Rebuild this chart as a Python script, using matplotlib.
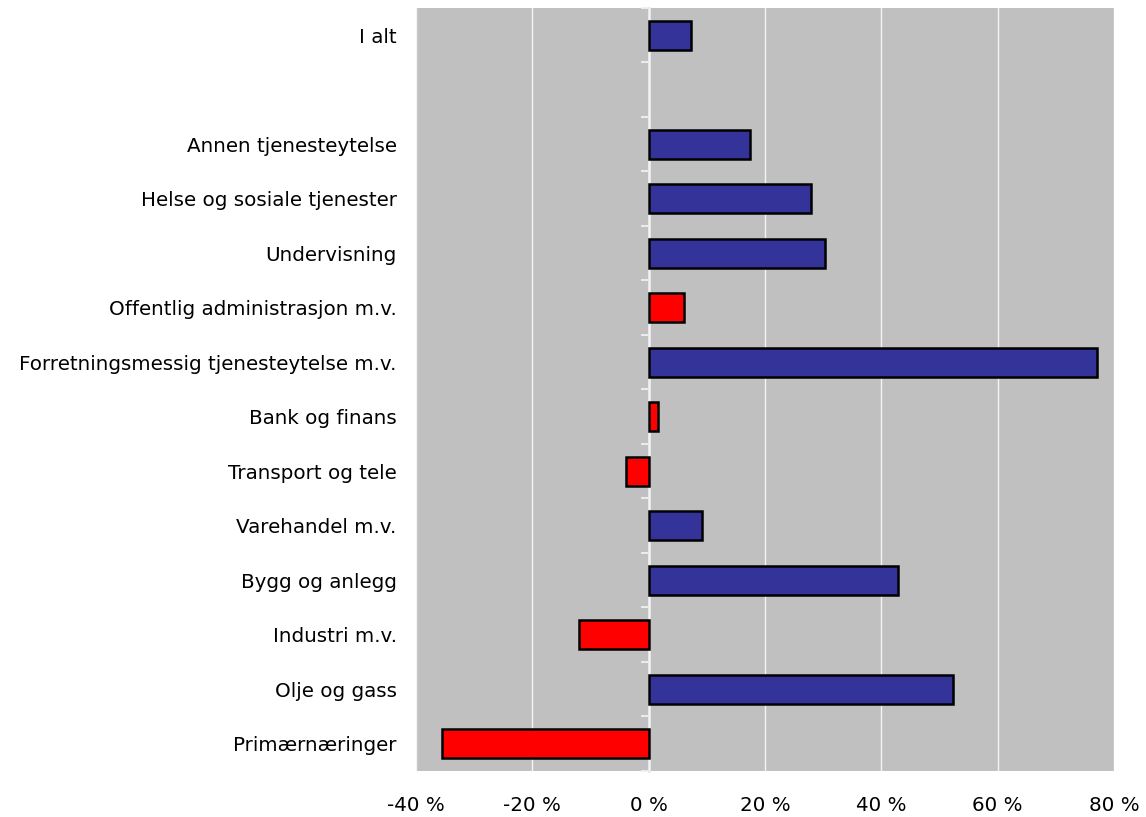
import matplotlib
matplotlib.use("Agg")
import matplotlib.pyplot as plt
import numpy as np

categories = ["I alt", "", "Annen tjenesteytelse", "Helse og sosiale tjenester", "Undervisning",
              "Offentlig administrasjon m.v.", "Forretningsmessig tjenesteytelse m.v.",
              "Bank og finans", "Transport og tele", "Varehandel m.v.", "Bygg og anlegg",
              "Industri m.v.", "Olje og gass", "Primærnæringer"]
values = [7.3, np.nan, 17.4, 27.9, 30.3, 6.1, 77.1, 1.6, -3.9, 9.2, 42.8, -12.0, 52.3, -35.5]
colors = ["#333399", "#333399", "#333399", "#333399", "#333399", "#FF0000", "#333399",
          "#FF0000", "#FF0000", "#333399", "#333399", "#FF0000", "#333399", "#FF0000"]
xticks = [-40, -20, 0, 20, 40, 60, 80]
xticklabels = ["-40 %", "-20 %", "0 %", "20 %", "40 %", "60 %", "80 %"]

plt.rcParams['font.family'] = ['DejaVu Sans']
fig = plt.figure(figsize=(11.46, 8.17), dpi=100)
ax = fig.add_axes([0.363, 0.0563, 0.609, 0.934])
ax.set_facecolor("#C0C0C0")

n = len(categories)
y = np.arange(n)
vals = np.nan_to_num(values)
mask = ~np.isnan(values)
ax.barh(y[mask], vals[mask], height=0.53, color=np.array(colors)[mask],
        edgecolor="black", linewidth=1.8, zorder=3)

ax.set_xlim(-40, 80)
ax.set_ylim(n - 0.5, -0.5)
ax.set_xticks(xticks)
ax.set_xticklabels(xticklabels, fontsize=14.3)
ax.set_yticks(y)
ax.set_yticklabels(categories, fontsize=14.3)
ax.tick_params(axis='both', length=0)
ax.tick_params(axis='x', pad=18)
ax.tick_params(axis='y', pad=14)
ax.grid(axis='x', color='#F4F4F4', linewidth=1.0, zorder=1)
for s in ax.spines.values():
    s.set_visible(False)

sec = ax.secondary_yaxis((0 - (-40)) / 120.0)
sec.set_yticks(np.arange(n + 1) - 0.5)
sec.set_yticklabels([])
sec.tick_params(axis='y', colors='#F0F0F0', length=6, width=1.3, direction='out')
sec.spines['left'].set_color('#E8E8E8')
sec.spines['left'].set_linewidth(2)
sec.spines['left'].set_zorder(2)

fig.savefig("out.png", dpi=100)
